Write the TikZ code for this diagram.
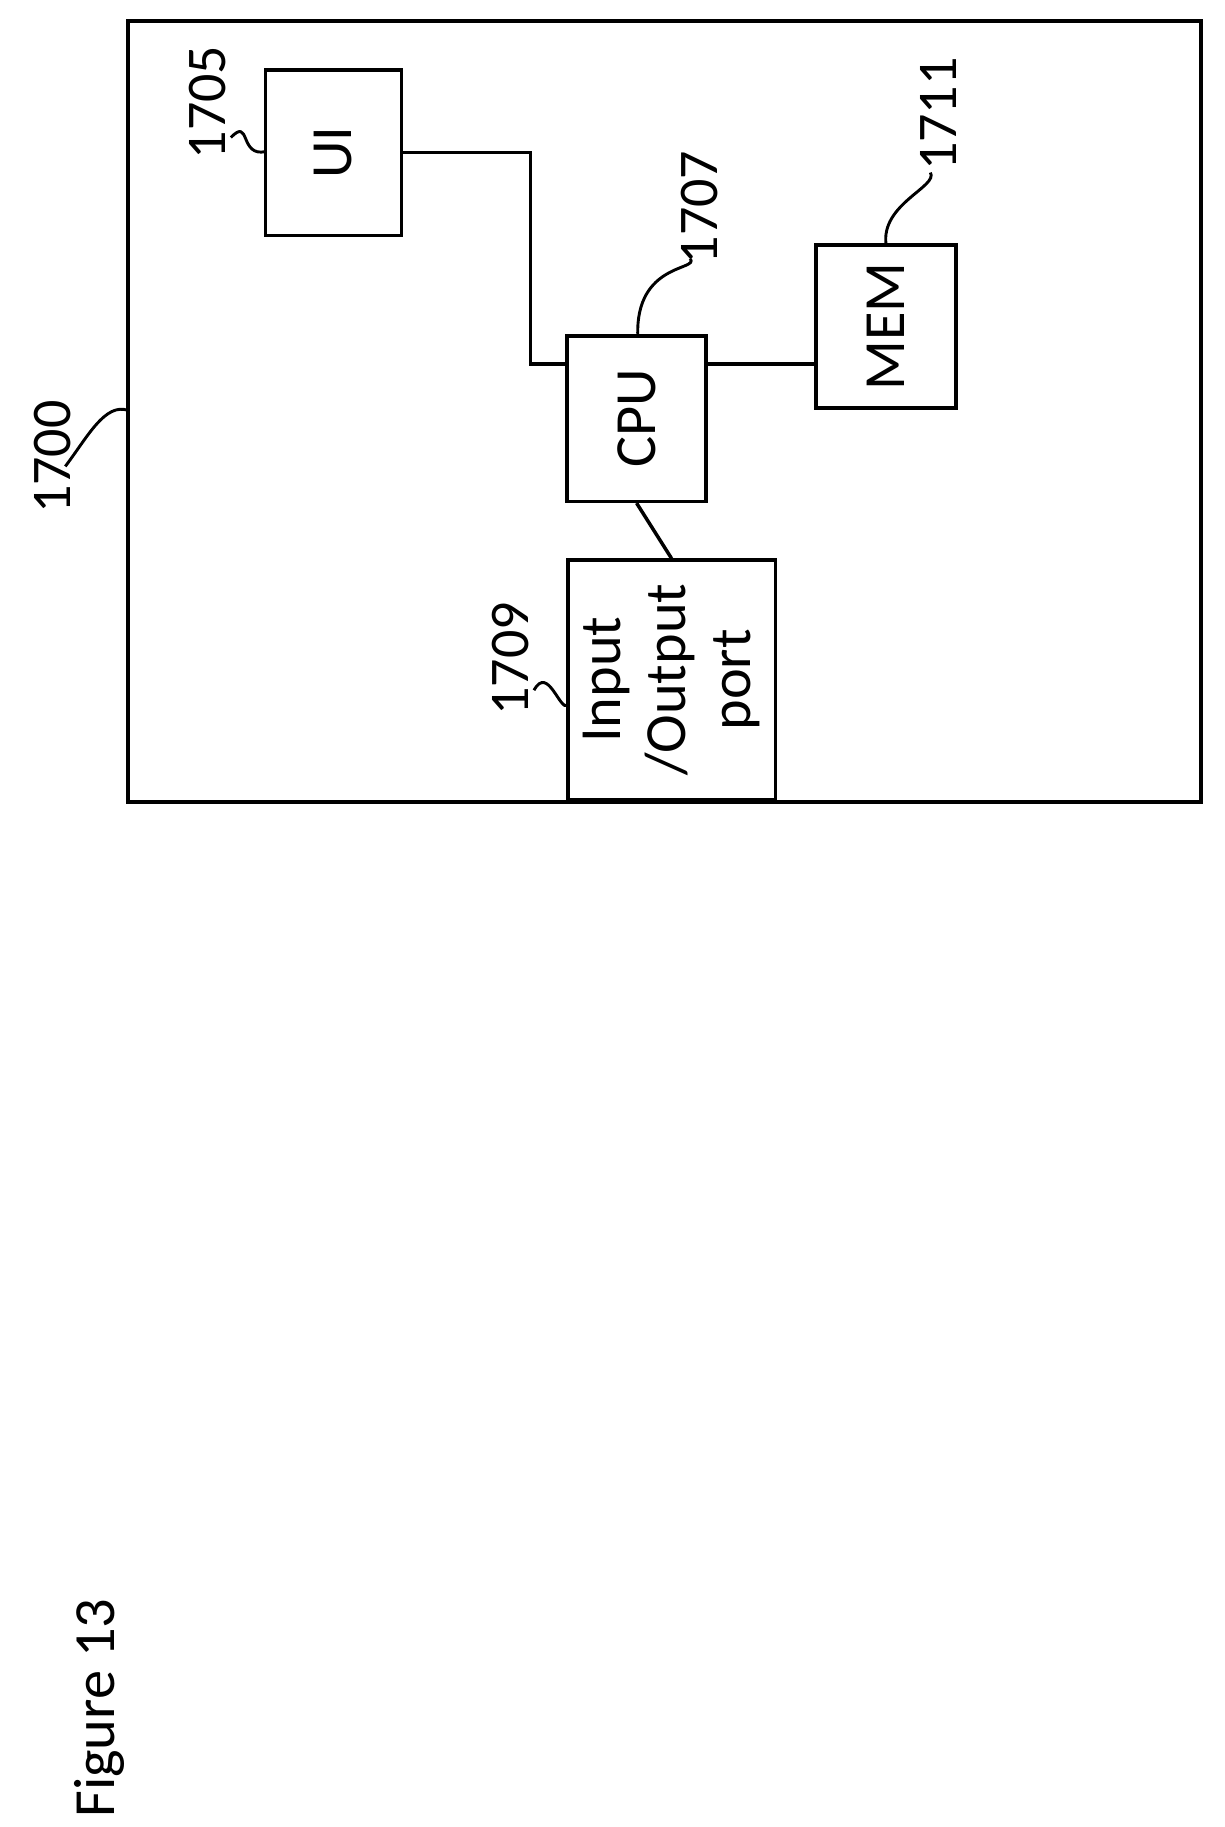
\documentclass[tikz,border=0pt]{standalone}
\usepackage{fontspec}
\setmainfont{Carlito}
\usetikzlibrary{positioning}
\tikzset{
box/.style={draw, line width=3pt, rotate=90, inner sep=0pt, align=center, font=\fontsize{50}{56}\selectfont}, % blocks, text turned
lbl/.style={rotate=90, font=\fontsize{48}{52}\selectfont}, % reference numbers
lead/.style={line width=2.5pt}, % squiggly leaders
wire/.style={line width=3pt}
}
\begin{document}
\begin{tikzpicture}[x=1pt,y=-1pt]
\useasboundingbox (0,0) rectangle (1050,1567);
\draw[line width=3.5pt] (110,18) rectangle (1030,688);
\node[box, minimum width=142pt, minimum height=117pt] (ui) at (286,131) {UI};
\node[box, minimum width=142pt, minimum height=119pt] (cpu) at (546,359) {CPU};
\node[box, minimum width=140pt, minimum height=120pt] (mem) at (760,280) {MEM};
\node[box, minimum width=205pt, minimum height=178pt] (io) at (576,583) {Input\\/Output\\port};
\coordinate (bend) at (455,131);
\coordinate (cpuL) at (487,312);
\coordinate (cpuR) at (606,312);
\coordinate (memL) at (700,312);
\draw[wire] (ui.south) -- (bend) |- (cpuL);
\draw[wire] (cpuR) -- (memL);
\draw[wire] (cpu.west) -- (io.east);
% reference numbers
\node[lbl] (n1700) at (45,392) {1700};
\node[lbl] (n1705) at (178,88) {1705};
\node[lbl] (n1707) at (600,178) {1707};
\node[lbl] (n1711) at (805,98) {1711};
\node[lbl] (n1709) at (438,565) {1709};
\node[lbl, font=\fontsize{50}{54}\selectfont] (fig) at (85,1465) {Figure 13};
\coordinate (t1700) at (56,400);
\coordinate (t1705) at (198,118);
\coordinate (t1707) at (592,222);
\coordinate (t1711) at (798,148);
\coordinate (t1709) at (458,592);
\draw[lead] (t1700) .. controls (75,375) and (90,345) .. (110,352);
\draw[lead] (t1705) .. controls (215,100) and (205,135) .. (228,130);
\draw[lead] (t1707) .. controls (600,232) and (545,225) .. (547,288);
\draw[lead] (t1711) .. controls (805,160) and (755,175) .. (760,210);
\draw[lead] (t1709) .. controls (470,570) and (480,610) .. (487,605);
\end{tikzpicture}
\end{document}
